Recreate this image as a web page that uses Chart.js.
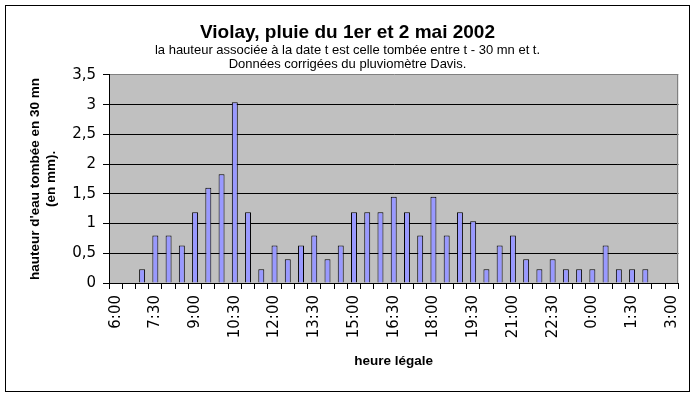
<!DOCTYPE html>
<html>
<head>
<meta charset="utf-8">
<script src="https://cdn.jsdelivr.net/npm/chart.js@4/dist/chart.umd.min.js"></script>
<style>
  html, body { margin: 0; padding: 0; background: #fff; }
  canvas { display: block; }
</style>
</head>
<body>
<canvas id="c" width="696" height="397"></canvas>
<script>
const titleText = "Violay, pluie du 1er et 2 mai 2002";
const subtitleLines = [
  "la hauteur associée à la date t est celle tombée entre t - 30 mn et t.",
  "Données corrigées du pluviomètre Davis."
];
const yTitleLines = ["hauteur d'eau tombée en 30 mn", "(en mm)."];
const xTitleText = "heure légale";

const categories = [
  "6:00","6:30","7:00","7:30","8:00","8:30","9:00","9:30","10:00","10:30",
  "11:00","11:30","12:00","12:30","13:00","13:30","14:00","14:30","15:00","15:30",
  "16:00","16:30","17:00","17:30","18:00","18:30","19:00","19:30","20:00","20:30",
  "21:00","21:30","22:00","22:30","23:00","23:30","0:00","0:30","1:00","1:30",
  "2:00","2:30","3:00"
];
const rainfall = [
  0, 0, 0.23, 0.8, 0.8, 0.63, 1.19, 1.6, 1.83, 3.04,
  1.19, 0.23, 0.63, 0.4, 0.63, 0.8, 0.4, 0.63, 1.19, 1.19,
  1.19, 1.45, 1.19, 0.8, 1.45, 0.8, 1.19, 1.04, 0.23, 0.63,
  0.8, 0.4, 0.23, 0.4, 0.23, 0.23, 0.23, 0.63, 0.23, 0.23,
  0.23, 0, 0
];
const labelEvery = 3;
const yMin = 0, yMax = 3.5, yStep = 0.5;

const W = 696, H = 397;
const AREA = { left: 109, right: 680, top: 75, bottom: 283 };
const PAD_LEFT = 15;

const decor = {
  id: 'decor',
  beforeDraw(chart) {
    const { ctx, chartArea: a } = chart;
    ctx.save();
    ctx.fillStyle = '#C0C0C0';
    ctx.fillRect(a.left, a.top, a.right - a.left, a.bottom - a.top);
    ctx.restore();
  },
  afterDraw(chart) {
    const { ctx, chartArea: a } = chart;
    ctx.save();
    ctx.strokeStyle = '#808080';
    ctx.lineWidth = 1;
    ctx.beginPath();
    ctx.moveTo(Math.round(a.right) - 0.5, a.top);
    ctx.lineTo(Math.round(a.right) - 0.5, a.bottom);
    ctx.stroke();
    ctx.strokeStyle = '#000';
    ctx.strokeRect(5.5, 5.5, 684, 386);
    ctx.restore();
  }
};

Chart.defaults.color = '#000';

new Chart(document.getElementById('c'), {
  type: 'bar',
  data: {
    labels: categories,
    datasets: [{
      data: rainfall,
      backgroundColor: '#9999FF',
      borderColor: '#000',
      borderWidth: 1,
      barPercentage: 0.45,
      categoryPercentage: 1.0
    }]
  },
  options: {
    responsive: false,
    animation: false,
    devicePixelRatio: 1,
    layout: { padding: { top: 0, left: PAD_LEFT, right: W - AREA.right, bottom: 0 } },
    plugins: {
      legend: { display: false },
      tooltip: { enabled: false },
      title: {
        display: true,
        text: titleText,
        color: '#000',
        font: { family: 'Liberation Sans', size: 19, weight: 'bold', lineHeight: 1.1 },
        padding: { top: 22.2, bottom: 0 }
      },
      subtitle: {
        display: true,
        text: subtitleLines,
        color: '#000',
        font: { family: 'Liberation Sans', size: 13, weight: 'normal', lineHeight: 1.077 },
        padding: { top: 0, bottom: 3.8 }
      }
    },
    scales: {
      x: {
        type: 'category',
        offset: true,
        grid: {
          offset: true,
          drawOnChartArea: false,
          drawTicks: true,
          tickLength: 6,
          color: '#000',
          tickColor: '#000'
        },
        border: { display: true, color: '#000', width: 1 },
        ticks: {
          autoSkip: false,
          maxRotation: 90,
          minRotation: 90,
          padding: 6,
          color: '#000',
          font: { family: 'DejaVu Sans', size: 15 },
          callback: function (v, i) { return i % labelEvery === 0 ? categories[i] : ''; }
        },
        title: {
          display: true,
          text: xTitleText,
          color: '#000',
          font: { family: 'Liberation Sans', size: 13.5, weight: 'bold', lineHeight: 1.18 },
          padding: { top: 0, bottom: 28 }
        },
        afterFit(scale) { scale.height = H - AREA.bottom; }
      },
      y: {
        min: yMin,
        max: yMax,
        grid: {
          drawOnChartArea: true,
          drawTicks: true,
          tickLength: 6,
          color: (c) => (c.tick && c.tick.value === yMax) ? '#808080' : '#000',
          tickColor: '#000'
        },
        border: { display: true, color: '#000', width: 1 },
        ticks: {
          stepSize: yStep,
          padding: 7,
          color: '#000',
          font: { family: 'DejaVu Sans', size: 15 },
          callback: (v) => String(v).replace('.', ',')
        },
        title: {
          display: true,
          text: yTitleLines,
          color: '#000',
          font: { family: 'Liberation Sans', size: 13.5, weight: 'bold', lineHeight: 1.18 },
          padding: { top: 12.8, bottom: 0 }
        },
        afterFit(scale) { scale.width = AREA.left - PAD_LEFT; }
      }
    }
  },
  plugins: [decor]
});
</script>
</body>
</html>
